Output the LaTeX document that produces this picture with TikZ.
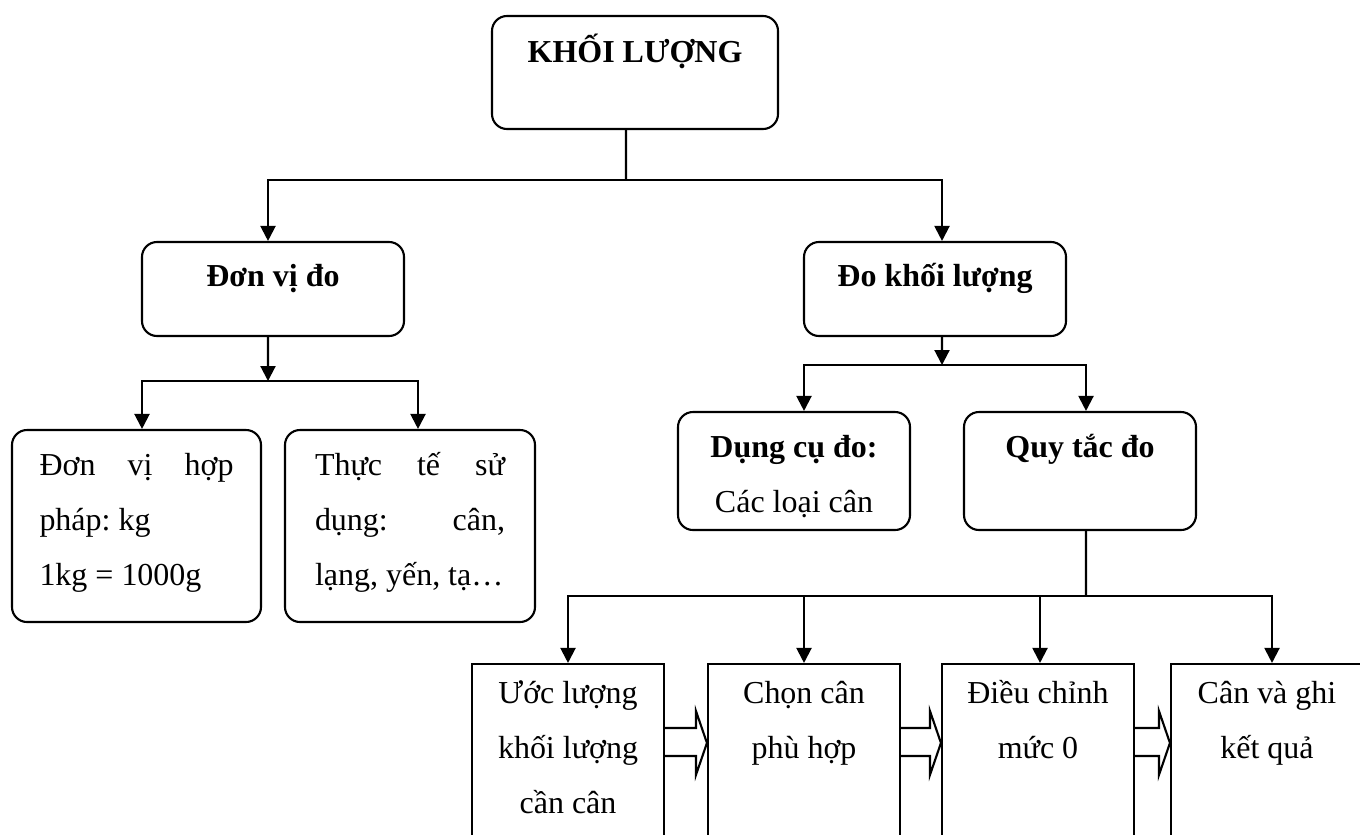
\documentclass[tikz,border=0pt]{standalone}
\usepackage{fontspec}
\setmainfont{Liberation Serif}
\usetikzlibrary{arrows.meta}
\frenchspacing

\begin{document}
\begin{tikzpicture}[>={Triangle[length=1.5mm,width=1.5mm]},
  font=\fontsize{9.1pt}{15.65pt}\selectfont,
  box/.style={draw, rounded corners=1.5mm, line width=0.6pt, inner sep=0pt, text height=3mm},
  stepbox/.style={draw, line width=0.6pt, inner sep=0pt, minimum width=1.92cm, minimum height=2.16cm, text height=3mm, text depth=16.8mm},
  edge/.style={->, line width=0.6pt},
  link/.style={line width=0.6pt},
  hollow/.style={draw, fill=white, line width=0.6pt}
]
\useasboundingbox (0,0) rectangle (13.6,-8.34);
\clip (0,0) rectangle (13.6,-8.34);
% top levels
\node[box, minimum width=2.86cm, minimum height=1.13cm, text depth=5.1mm] (root) at (6.35,-0.725) {\textbf{KHỐI LƯỢNG}};
\node[box, minimum width=2.62cm, minimum height=0.94cm, text depth=3.6mm] (dvd) at (2.73,-2.89) {\textbf{Đơn vị đo}};
\node[box, minimum width=2.62cm, minimum height=0.94cm, text depth=3.6mm] (dkl) at (9.35,-2.89) {\textbf{Đo khối lượng}};
\node[box, minimum width=2.49cm, minimum height=1.92cm, text depth=13.2mm] (hp) at (1.365,-5.26) {\begin{tabular}[t]{@{}l@{}}\makebox[1.94cm][s]{Đơn vị hợp}\\ pháp: kg\\ 1kg = 1000g\end{tabular}};
\node[box, minimum width=2.50cm, minimum height=1.92cm, text depth=13.2mm] (tt) at (4.10,-5.26) {\begin{tabular}[t]{@{}l@{}}\makebox[1.90cm][s]{Thực tế sử}\\ \makebox[1.90cm][s]{dụng: cân,}\\ lạng, yến, tạ…\end{tabular}};
\node[box, minimum width=2.32cm, minimum height=1.18cm, text depth=5.8mm] (dc) at (7.94,-4.71) {\begin{tabular}[t]{@{}c@{}}\textbf{Dụng cụ đo:}\\ Các loại cân\end{tabular}};
\node[box, minimum width=2.32cm, minimum height=1.18cm, text depth=5.8mm] (qt) at (10.80,-4.71) {\textbf{Quy tắc đo}};
% steps
\node[stepbox] (s1) at (5.68,-7.72) {\begin{tabular}[t]{@{}c@{}}Ước lượng\\ khối lượng\\ cần cân\end{tabular}};
\node[stepbox] (s2) at (8.04,-7.72) {\begin{tabular}[t]{@{}c@{}}Chọn cân\\ phù hợp\end{tabular}};
\node[stepbox] (s3) at (10.38,-7.72) {\begin{tabular}[t]{@{}c@{}}Điều chỉnh\\ mức 0\end{tabular}};
\node[stepbox] (s4) at (12.67,-7.72) {\begin{tabular}[t]{@{}c@{}}Cân và ghi\\ kết quả\end{tabular}};
% joints
\coordinate (j0) at (6.26,-1.80);
\coordinate (j1) at (2.68,-3.81);
\coordinate (j2) at (9.42,-3.65);
\coordinate (j3) at (10.86,-5.96);
\draw[link] ([xshift=-0.9mm]root.south) -- (j0);
\draw[edge] (j0) -| ([xshift=-0.5mm]dvd.north);
\draw[edge] (j0) -| ([xshift=0.7mm]dkl.north);
\draw[edge] ([xshift=-0.5mm]dvd.south) -- (j1);
\draw[edge] (j1) -| ([xshift=0.55mm]hp.north);
\draw[edge] (j1) -| ([xshift=0.8mm]tt.north);
\draw[edge] ([xshift=0.7mm]dkl.south) -- (j2);
\draw[edge] (j2) -| ([xshift=1mm]dc.north);
\draw[edge] (j2) -| ([xshift=0.6mm]qt.north);
\draw[link] ([xshift=0.6mm]qt.south) -- (j3);
\draw[edge] (j3) -| (s1.north);
\draw[edge] (j3) -| (s2.north);
\draw[edge] (j3) -| ([xshift=0.2mm]s3.north);
\draw[edge] (j3) -| ([xshift=0.5mm]s4.north);
% block arrows
\draw[hollow] ([yshift=-6.5mm]s1.north east) -- ([xshift=-1.1mm,yshift=-6.5mm]s2.north west) -- ([xshift=-1.1mm,yshift=-4.8mm]s2.north west) -- ([yshift=-8mm]s2.north west) -- ([xshift=-1.1mm,yshift=-11.2mm]s2.north west) -- ([xshift=-1.1mm,yshift=-9.3mm]s2.north west) -- ([yshift=-9.3mm]s1.north east);
\draw[hollow] ([yshift=-6.5mm]s2.north east) -- ([xshift=-1.1mm,yshift=-6.5mm]s3.north west) -- ([xshift=-1.1mm,yshift=-4.8mm]s3.north west) -- ([yshift=-8mm]s3.north west) -- ([xshift=-1.1mm,yshift=-11.2mm]s3.north west) -- ([xshift=-1.1mm,yshift=-9.3mm]s3.north west) -- ([yshift=-9.3mm]s2.north east);
\draw[hollow] ([yshift=-6.5mm]s3.north east) -- ([xshift=-1.1mm,yshift=-6.5mm]s4.north west) -- ([xshift=-1.1mm,yshift=-4.8mm]s4.north west) -- ([yshift=-8mm]s4.north west) -- ([xshift=-1.1mm,yshift=-11.2mm]s4.north west) -- ([xshift=-1.1mm,yshift=-9.3mm]s4.north west) -- ([yshift=-9.3mm]s3.north east);
\end{tikzpicture}
\end{document}
